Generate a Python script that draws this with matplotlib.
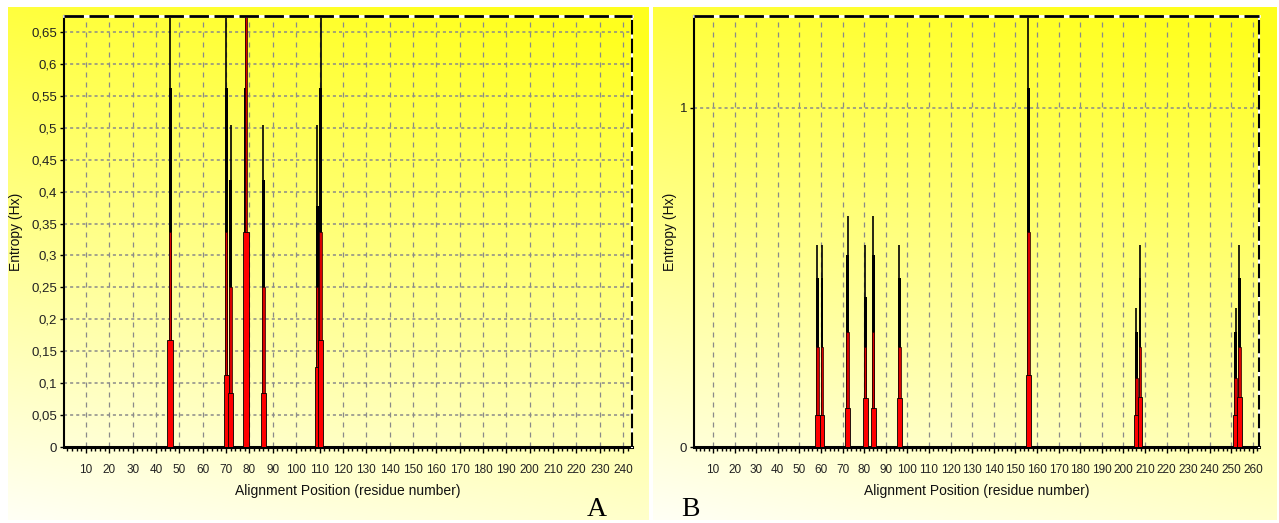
"""Entropy (Hx) plots of two alignments, panels A and B."""

import matplotlib

matplotlib.use("Agg")
import matplotlib.pyplot as plt
import numpy as np
from matplotlib.ticker import FixedLocator, FuncFormatter, MultipleLocator

plt.rcParams["font.family"] = ["Liberation Sans Narrow", "Liberation Sans", "DejaVu Sans"]

# panel A: peak positions and the levels of each stacked spike
A_POS = [46, 70, 72, 78.5, 86, 109, 110.5]
A_LINE = [0.675, 0.675, 0.505, 0.675, 0.505, 0.505, 0.675]
A_BLACK = [0.563, 0.563, 0.418, 0.563, 0.418, 0.377, 0.563]
A_RED = [0.337, 0.337, 0.25, 0.675, 0.25, 0.25, 0.337]
A_LOW = [0.168, 0.113, 0.084, 0.337, 0.084, 0.125, 0.168]
A_YTICKS = [0, 0.05, 0.1, 0.15, 0.2, 0.25, 0.3, 0.35, 0.4, 0.45, 0.5, 0.55, 0.6, 0.65]
A_XTICKS = list(range(10, 250, 10))

# panel B
B_POS = [58.3, 60.5, 72.3, 80.5, 84.2, 96.3, 156, 206, 207.7, 252, 253.7]
B_LINE = [0.596, 0.596, 0.681, 0.596, 0.681, 0.596, 1.27, 0.411, 0.596, 0.411, 0.596]
B_BLACK = [0.498, 0.498, 0.566, 0.443, 0.566, 0.498, 1.058, 0.34, 0.498, 0.34, 0.498]
B_RED = [0.295, 0.295, 0.34, 0.295, 0.34, 0.295, 0.635, 0.204, 0.295, 0.204, 0.295]
B_LOW = [0.094, 0.094, 0.115, 0.145, 0.115, 0.145, 0.212, 0.094, 0.147, 0.094, 0.147]
B_YTICKS = [0, 1]
B_XTICKS = list(range(10, 270, 10))

W, H = 1279, 523


def fig_rect(left, top, right, bottom):
    return [left / W, 1 - bottom / H, (right - left) / W, (bottom - top) / H]


def gradient_bg(fig, rect):
    bg = fig.add_axes(rect)
    ny, nx = 200, 200
    v = np.linspace(0, 1, ny)[:, None]
    h = np.linspace(0, 1, nx)[None, :]
    t = np.clip(0.85 * v + 0.2 * (1 - h) - 0.05, 0, 1)
    top = np.array([255, 255, 30]) / 255
    bot = np.array([255, 255, 245]) / 255
    img = top[None, None, :] * (1 - t[..., None]) + bot[None, None, :] * t[..., None]
    bg.imshow(img, aspect="auto", extent=(0, 1, 0, 1))
    bg.set_axis_off()


def comma(v, _pos=None):
    s = f"{v:.2f}".rstrip("0").rstrip(".")
    return s.replace(".", ",")


def draw_panel(ax, pos, line, black, red, low, xlim, ylim, xticks, yticks, hgrid, ylabel_x):
    ax.set_facecolor("none")
    ax.vlines(pos, 0, line, color="black", lw=1.2, zorder=3)
    ax.bar(pos, black, width=1.3, color="black", zorder=4)
    ax.bar(pos, red, width=1.1, color="#d80000", edgecolor="#200000", lw=0.5, zorder=5)
    ax.bar(pos, low, width=2.2, color="#ff0000", edgecolor="black", lw=0.6, zorder=6)

    ax.set_xlim(*xlim)
    ax.set_ylim(*ylim)
    ax.xaxis.set_major_locator(FixedLocator(xticks))
    ax.xaxis.set_minor_locator(MultipleLocator(2))
    ax.yaxis.set_major_locator(FixedLocator(yticks))
    ax.yaxis.set_major_formatter(FuncFormatter(comma))
    ax.tick_params(axis="x", which="major", direction="out", length=4, width=1,
                   labelsize=8.5, colors="black", labelcolor="#222222", pad=8)
    ax.tick_params(axis="x", which="minor", direction="out", length=3, width=1)
    ax.tick_params(axis="y", direction="out", length=3, width=1,
                   labelsize=9.5, labelcolor="#222222", pad=2)

    ax.grid(axis="x", which="major", color="#8a8a8a", ls=(0, (4, 4)), lw=0.9, zorder=1)
    if hgrid:
        ax.grid(axis="y", color="#8a8a8a", ls=(0, (2, 2)), lw=1.1, zorder=1)
    ax.set_axisbelow(True)

    for side in ("top", "right"):
        ax.spines[side].set_visible(False)
    ax.spines["left"].set_linewidth(1.5)
    ax.spines["bottom"].set_linewidth(2.2)
    ax.plot([0, 1], [1, 1], transform=ax.transAxes, color="white", lw=2, clip_on=False, zorder=7)
    ax.plot([0, 1], [1, 1], transform=ax.transAxes, color="black", lw=2, dashes=(7, 2),
            clip_on=False, zorder=8)
    ax.plot([1, 1], [0, 1], transform=ax.transAxes, color="white", lw=1.5, clip_on=False, zorder=7)
    ax.plot([1, 1], [0, 1], transform=ax.transAxes, color="black", lw=1.5, dashes=(7, 2),
            clip_on=False, zorder=8)

    ax.set_xlabel("Alignment Position (residue number)", fontsize=10, labelpad=6,
                  color="#111111")
    ax.set_ylabel("Entropy (Hx)", fontsize=10, family=["Liberation Sans", "DejaVu Sans"],
                  color="#111111")
    ax.yaxis.set_label_coords(ylabel_x, 0.5)


fig = plt.figure(figsize=(W / 100, H / 100), dpi=100)
gradient_bg(fig, fig_rect(8, 7, 649, 520))
gradient_bg(fig, fig_rect(653, 7, 1277, 520))

ax_a = fig.add_axes(fig_rect(64, 16, 632, 447))
draw_panel(ax_a, A_POS, A_LINE, A_BLACK, A_RED, A_LOW, (0.6, 243.8), (0, 0.675),
           A_XTICKS, A_YTICKS, True, -0.072)

ax_b = fig.add_axes(fig_rect(694, 16, 1259, 447))
draw_panel(ax_b, B_POS, B_LINE, B_BLACK, B_RED, B_LOW, (1.2, 262.8), (0, 1.27),
           B_XTICKS, B_YTICKS, False, -0.03)
ax_b.grid(axis="y", color="#8a8a8a", ls=(0, (2, 2)), lw=1.1)
ax_b.set_yticks([0, 1])

fig.text(597 / W, 1 - 510 / H, "A", family=["Liberation Serif", "DejaVu Serif"],
         fontsize=20, ha="center", va="center")
fig.text(690 / W, 1 - 510 / H, "B", family=["Liberation Serif", "DejaVu Serif"],
         fontsize=20, ha="center", va="center")

fig.savefig("out.png", dpi=100)
